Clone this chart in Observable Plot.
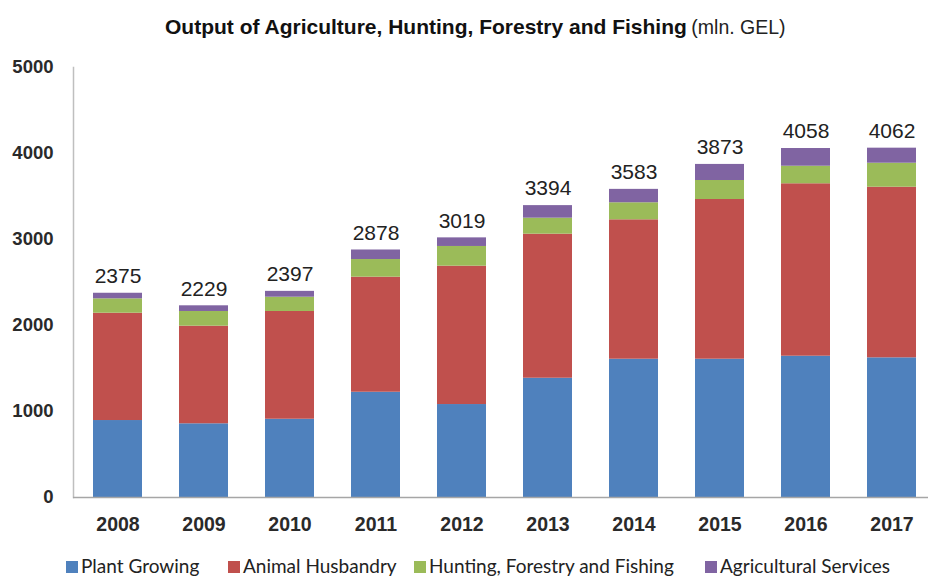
<!DOCTYPE html>
<html><head><meta charset="utf-8">
<script src="https://cdn.jsdelivr.net/npm/d3@7"></script>
<script src="https://cdn.jsdelivr.net/npm/@observablehq/plot@0.6"></script>
<style>
body{margin:0;background:#fff;width:928px;height:578px;overflow:hidden;position:relative;font-family:"Liberation Sans",Arial,sans-serif}
#title{position:absolute;top:15px;left:165px;white-space:nowrap;color:#111;line-height:24px}
#title .t1{font-weight:bold;font-size:21px}
#title .t2{font-size:19.5px;color:#222}
#chart{position:absolute;top:50px;left:0}
.lg{position:absolute;top:556px;height:20px;font-family:Lato,"Open Sans",sans-serif;font-size:19px;color:#222;white-space:nowrap;line-height:20px}
.sw{position:absolute;top:5px;width:12px;height:12px}
</style></head><body>
<div id="title"><span class="t1">Output of Agriculture, Hunting, Forestry and Fishing</span> <span class="t2">(mln. GEL)</span></div>
<div id="chart"></div>
<div id="legend"></div>
<script>
const years = ["2008","2009","2010","2011","2012","2013","2014","2015","2016","2017"];
const seriesNames = ["Plant Growing","Animal Husbandry","Hunting, Forestry and Fishing","Agricultural Services"];
const colors = ["#4F81BD","#C0504D","#9BBB59","#8064A2"];
const plantGrowing = [895, 857, 910, 1224, 1081, 1387, 1608, 1608, 1643, 1624];
const animalHusbandry = [1248, 1135, 1253, 1338, 1609, 1675, 1621, 1857, 2005, 1984];
const huntingForestryFishing = [167, 171, 166, 205, 229, 186, 198, 221, 204, 279];
const agriculturalServices = [65, 66, 68, 111, 100, 146, 156, 187, 206, 175];
const totals = [2375, 2229, 2397, 2878, 3019, 3394, 3583, 3873, 4058, 4062];
const yTicks = [0, 1000, 2000, 3000, 4000, 5000];

const seriesValues = [plantGrowing, animalHusbandry, huntingForestryFishing, agriculturalServices];
const rows = [];
years.forEach((yr, i) => {
  seriesNames.forEach((s, j) => rows.push({year: yr, series: s, value: seriesValues[j][i]}));
});
const totalRows = years.map((yr, i) => ({year: yr, total: totals[i]}));

const chart = Plot.plot({
  width: 928, height: 490,
  marginLeft: 73, marginRight: 0, marginTop: 17, marginBottom: 43,
  x: {domain: years, paddingInner: 0.4256, paddingOuter: 0.174, align: 0.64, label: null},
  y: {domain: [0, 5000], label: null},
  color: {domain: seriesNames, range: colors},
  style: {fontFamily: "'Liberation Sans', Arial, sans-serif", background: "white", overflow: "visible"},
  marks: [
    Plot.barY(rows, {x: "year", y: "value", fill: "series"}),
    Plot.axisY({ticks: yTicks, tickFormat: d => String(d), tickSize: 0, tickPadding: 20, fontSize: 18.5, fontWeight: "bold", fill: "#2a2a2a", label: null}),
    Plot.axisX({tickSize: 0, tickPadding: 20, fontSize: 19.5, fontWeight: "bold", fill: "#2a2a2a", label: null}),
    Plot.frame({anchor: "left", stroke: "#bfbfbf", strokeWidth: 1.5}),
    Plot.ruleY([0], {stroke: "#a6a6a6", strokeWidth: 1.5}),
    Plot.text(totalRows, {x: "year", y: "total", text: d => String(d.total), dy: -17, fontSize: 21, fill: "#222"})
  ]
});
document.getElementById("chart").appendChild(chart);

const legendX = [66, 228, 414, 705];
const legend = document.getElementById("legend");
seriesNames.forEach((s, j) => {
  const d = document.createElement("div");
  d.className = "lg";
  d.style.left = legendX[j] + "px";
  d.innerHTML = `<span class="sw" style="left:0;background:${colors[j]}"></span><span style="margin-left:15px">${s}</span>`;
  legend.appendChild(d);
});
</script>
</body></html>
